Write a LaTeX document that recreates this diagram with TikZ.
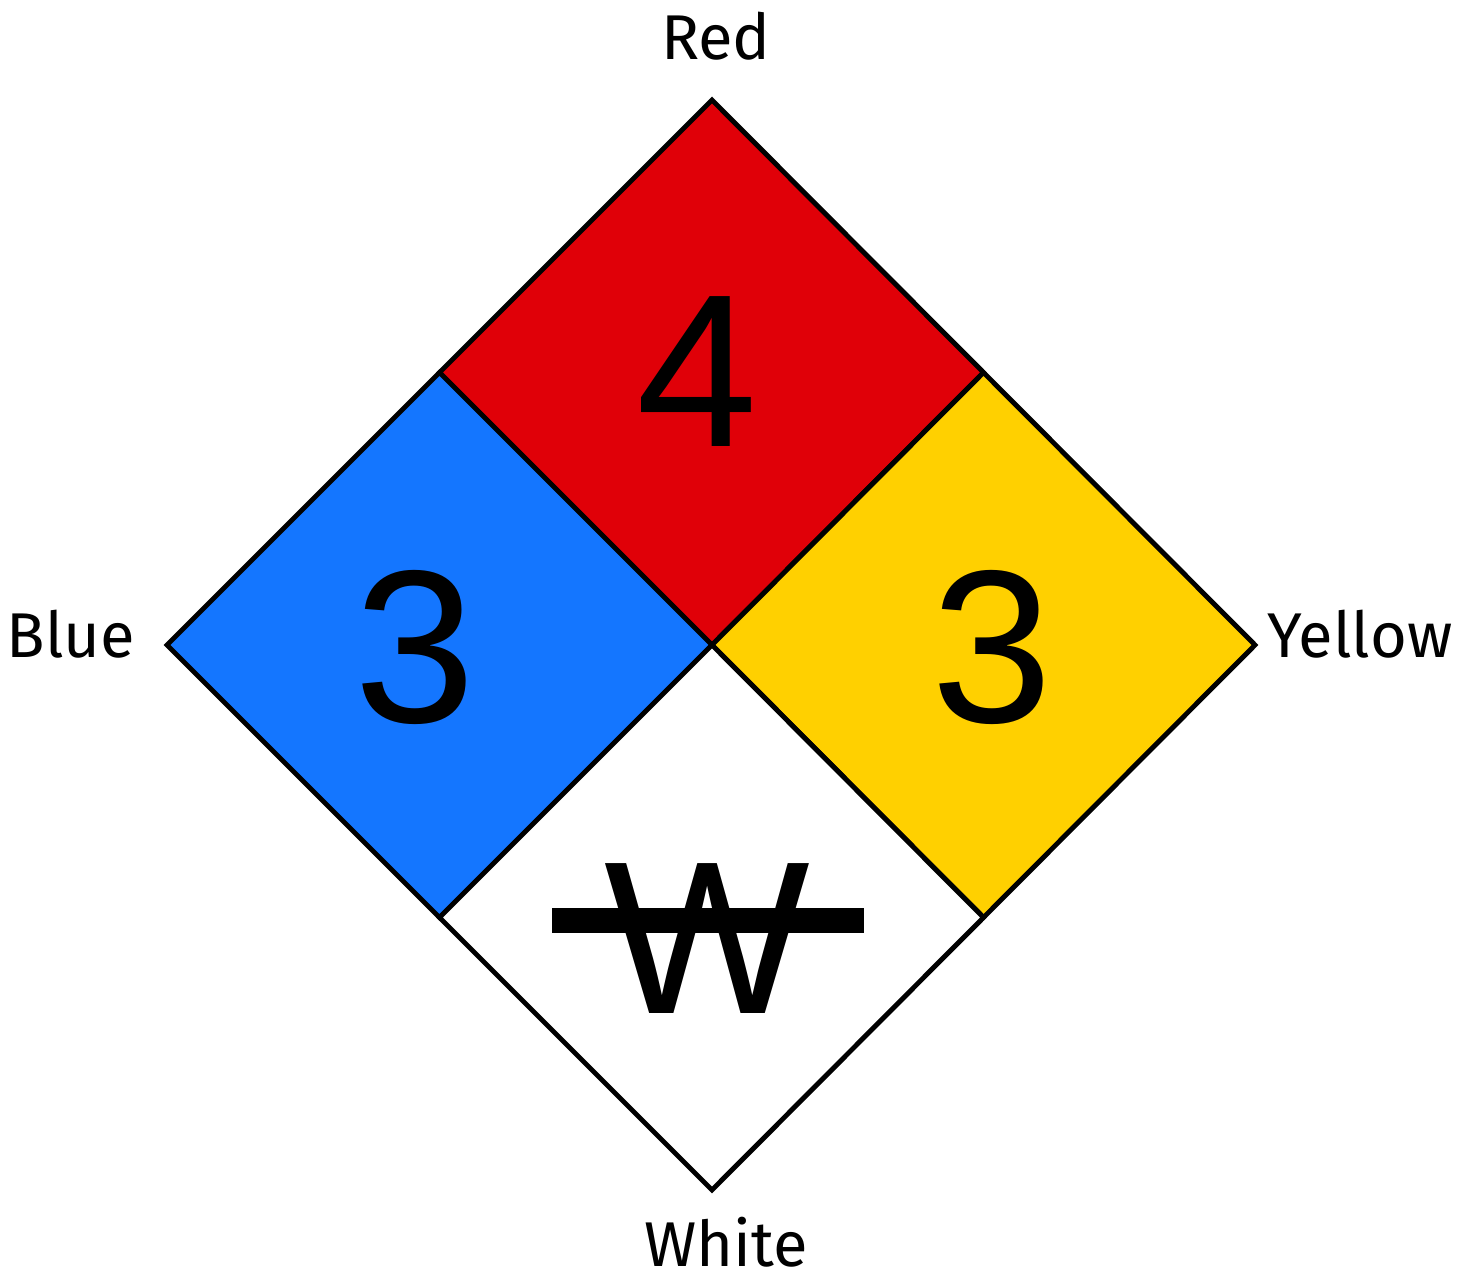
\documentclass[tikz,border=0pt]{standalone}
\usepackage{fontspec}
\setmainfont{Fira Sans}
\newfontfamily\numfont{Liberation Sans}
\usepackage{tikz}
\usetikzlibrary{positioning, calc}

\definecolor{nfpared}{RGB}{224,0,8}
\definecolor{nfpablue}{RGB}{20,118,255}
\definecolor{nfpayellow}{RGB}{255,208,0}

\tikzset{
  quad/.style={draw=black, line width=1.4pt, line join=miter},
  colorlabel/.style={anchor=base, inner sep=0pt, font=\fontsize{18}{22}\selectfont},
  rating/.style={anchor=base, inner sep=0pt, font=\numfont\fontsize{62}{70}\selectfont}
}

\begin{document}
\begin{tikzpicture}

  \useasboundingbox (0,0) rectangle (14.69,12.81);

  % Corners of the diamond
  \coordinate (top) at (7.12,11.81);
  \coordinate (left) at (1.67,6.36);
  \coordinate (right) at (12.55,6.36);
  \coordinate (bottom) at (7.12,0.91);
  \coordinate (mid) at (7.12,6.36);

  % Edge midpoints
  \coordinate (tl) at ($(top)!0.5!(left)$);
  \coordinate (tr) at ($(top)!0.5!(right)$);
  \coordinate (bl) at ($(bottom)!0.5!(left)$);
  \coordinate (br) at ($(bottom)!0.5!(right)$);

  % Four quadrants
  \draw[quad, fill=nfpared] (top) -- (tr) -- (mid) -- (tl) -- cycle;
  \draw[quad, fill=nfpablue] (left) -- (tl) -- (mid) -- (bl) -- cycle;
  \draw[quad, fill=nfpayellow] (right) -- (br) -- (mid) -- (tr) -- cycle;
  \draw[quad, fill=white] (bottom) -- (bl) -- (mid) -- (br) -- cycle;

  % Ratings
  \node[rating] (flam) at (6.97,8.34) {4};
  \node[rating] (health) at (4.15,5.58) {3};
  \node[rating] (react) at (9.92,5.58) {3};
  \node[rating] (special) at (7.07,2.68) {W};

  % Strike through the W
  \draw[line width=0.25cm] (5.52,3.61) -- (8.64,3.61);

  % Colour names
  \node[colorlabel] (redlbl) at (7.16,12.21) {Red};
  \node[colorlabel] (bluelbl) at (0.71,6.23) {Blue};
  \node[colorlabel] (yellowlbl) at (13.60,6.23) {Yellow};
  \node[colorlabel] (whitelbl) at (7.26,0.15) {White};

\end{tikzpicture}
\end{document}
